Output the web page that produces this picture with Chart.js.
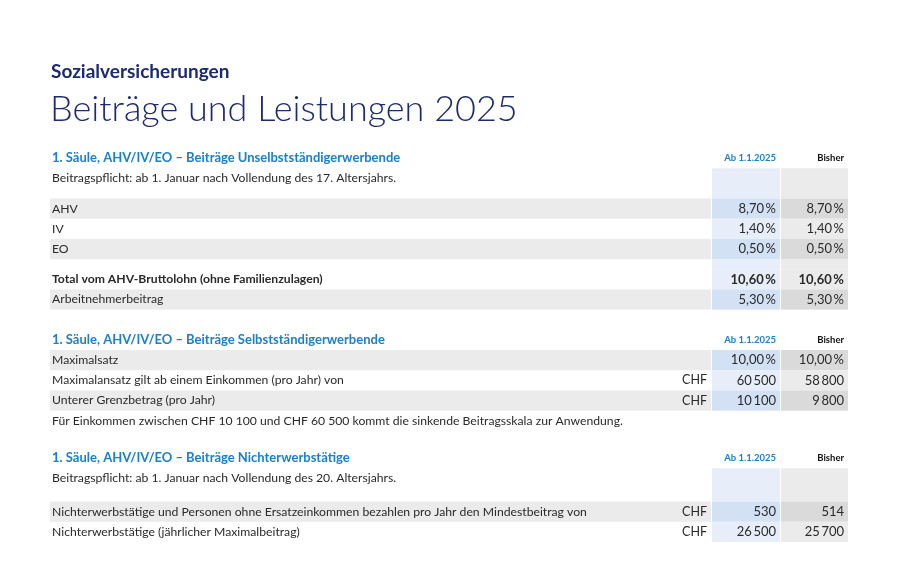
<!DOCTYPE html>
<html>
<head>
<meta charset="utf-8">
<title>Beiträge und Leistungen 2025</title>
<script src="https://cdn.jsdelivr.net/npm/chart.js@4.4.1/dist/chart.umd.min.js"></script>
<style>
  body { margin: 0; background: #fff; }
  #wrap { position: relative; width: 900px; height: 570px; }
</style>
</head>
<body>
<div id="wrap"><canvas id="myChart"></canvas></div>
<script>
// --- data -----------------------------------------------------------
var kicker = "Sozialversicherungen";
var mainTitle = "Beiträge und Leistungen 2025";
var sectionTitles = [
  "1. Säule, AHV/IV/EO – Beiträge Unselbstständigerwerbende",
  "1. Säule, AHV/IV/EO – Beiträge Selbstständigerwerbende",
  "1. Säule, AHV/IV/EO – Beiträge Nichterwerbstätige"
];
var colHeaders = ["Ab 1.1.2025", "Bisher"];
var introTexts = [
  "Beitragspflicht: ab 1. Januar nach Vollendung des 17. Altersjahrs.",
  "Beitragspflicht: ab 1. Januar nach Vollendung des 20. Altersjahrs."
];

var labels1 = ["AHV", "IV", "EO", "Total vom AHV-Bruttolohn (ohne Familienzulagen)", "Arbeitnehmerbeitrag"];
var rates2025 = [8.70, 1.40, 0.50, 10.60, 5.30];
var ratesBisher = [8.70, 1.40, 0.50, 10.60, 5.30];
var totalIndex = 3;

var labels2 = ["Maximalsatz", "Maximalansatz gilt ab einem Einkommen (pro Jahr) von", "Unterer Grenzbetrag (pro Jahr)"];
var units2 = ["%", "CHF", "CHF"];
var values2025_2 = [10.00, 60500, 10100];
var valuesBisher_2 = [10.00, 58800, 9800];
var note2 = "Für Einkommen zwischen CHF 10 100 und CHF 60 500 kommt die sinkende Beitragsskala zur Anwendung.";

var labels3 = ["Nichterwerbstätige und Personen ohne Ersatzeinkommen bezahlen pro Jahr den Mindestbeitrag von",
               "Nichterwerbstätige (jährlicher Maximalbeitrag)"];
var units3 = ["CHF", "CHF"];
var values2025_3 = [530, 26500];
var valuesBisher_3 = [514, 25700];

// --- formatting -----------------------------------------------------
function fmtPct(v) {
  return v.toFixed(2).replace(".", ",") + "\u2009%";
}
function fmtChf(v) {
  var s = String(v);
  if (s.length > 3) s = s.slice(0, s.length - 3) + "\u2009" + s.slice(s.length - 3);
  return s;
}
function fmt(v, unit) {
  return unit === "%" ? fmtPct(v) : fmtChf(v);
}

// --- table rows (heights in line units) -----------------------------
function buildRows() {
  var rows = [];
  rows.push({kind: "head", text: sectionTitles[0], h: 2});
  rows.push({kind: "intro", text: introTexts[0], h: 3});
  for (var i = 0; i < labels1.length; i++) {
    if (i === totalIndex) rows.push({kind: "gap", h: 1});
    rows.push({kind: "row", text: labels1[i], unit: "", a: fmtPct(rates2025[i]), b: fmtPct(ratesBisher[i]),
               shade: i % 2 === 0, bold: i === totalIndex, h: 2});
  }
  rows.push({kind: "space", h: 2});
  rows.push({kind: "head", text: sectionTitles[1], h: 2});
  for (var j = 0; j < labels2.length; j++) {
    rows.push({kind: "row", text: labels2[j], unit: units2[j] === "CHF" ? "CHF" : "",
               a: fmt(values2025_2[j], units2[j]), b: fmt(valuesBisher_2[j], units2[j]), shade: j % 2 === 0, h: 2});
  }
  rows.push({kind: "note", text: note2, h: 2});
  rows.push({kind: "space", h: 1.7});
  rows.push({kind: "head", text: sectionTitles[2], h: 2});
  rows.push({kind: "intro", text: introTexts[1], h: 3.3});
  for (var k = 0; k < labels3.length; k++) {
    rows.push({kind: "row", text: labels3[k], unit: units3[k], a: fmtChf(values2025_3[k]), b: fmtChf(valuesBisher_3[k]),
               shade: k % 2 === 0, h: 2});
  }
  var y = 0;
  rows.forEach(function(r) { r.y0 = y; y += r.h; r.y1 = y; });
  return rows;
}
var tableRows = buildRows();
var totalUnits = tableRows[tableRows.length - 1].y1;

// columns along the x scale (table width units)
var cols = {labelEnd: 661, newStart: 662, newEnd: 730, oldStart: 731, oldEnd: 798,
            labelX: 2, unitRight: 657, newRight: 726, oldRight: 794};

var FONT = "Lato, 'Open Sans', sans-serif";
var colors = {
  navy: "#1c2b6e", blue: "#1c80c8", text: "#2a2a2a",
  rowShade: "#ebebeb",
  newLight: "#e7eef9", newDark: "#d3e1f5",
  oldLight: "#ebebeb", oldDark: "#dadada"
};

var tablePlugin = {
  id: "tablePlugin",
  afterDraw: function(chart) {
    var ctx = chart.ctx, X = chart.scales.x, Y = chart.scales.y;
    function px(u) { return X.getPixelForValue(u); }
    function py(u) { return Y.getPixelForValue(u); }
    function rect(x0, x1, y0, y1, c) {
      ctx.fillStyle = c;
      ctx.fillRect(px(x0), py(y0), px(x1) - px(x0), py(y1) - py(y0));
    }
    ctx.save();

    // titles
    ctx.textBaseline = "alphabetic";
    ctx.textAlign = "left";
    ctx.fillStyle = colors.navy;
    ctx.font = "bold 19px " + FONT;
    ctx.fillText(kicker, px(0) + 1, 78);
    ctx.font = "300 36px " + FONT;
    ctx.fillText(mainTitle, px(0), 121);

    // cell backgrounds
    tableRows.forEach(function(r) {
      if (r.kind === "intro" || r.kind === "gap" || r.kind === "row") {
        var dark = r.kind === "row" && r.shade;
        if (dark) rect(0, cols.labelEnd, r.y0, r.y1, colors.rowShade);
        rect(cols.newStart, cols.newEnd, r.y0, r.y1, dark ? colors.newDark : colors.newLight);
        rect(cols.oldStart, cols.oldEnd, r.y0, r.y1, dark ? colors.oldDark : colors.oldLight);
      }
    });

    // texts
    ctx.textBaseline = "middle";
    tableRows.forEach(function(r) {
      var yc = py(r.y0 + 1);
      if (r.kind === "head") {
        ctx.textAlign = "left";
        ctx.fillStyle = colors.blue;
        ctx.font = "bold 13px " + FONT;
        ctx.fillText(r.text, px(cols.labelX), yc);
        ctx.textAlign = "right";
        ctx.font = "bold 9.5px " + FONT;
        ctx.fillText(colHeaders[0], px(cols.newRight), yc);
        ctx.fillStyle = "#111";
        ctx.fillText(colHeaders[1], px(cols.oldRight), yc);
      } else if (r.kind === "intro" || r.kind === "note" || r.kind === "row") {
        ctx.textAlign = "left";
        ctx.fillStyle = colors.text;
        ctx.font = (r.bold ? "bold " : "") + "12.2px " + FONT;
        ctx.fillText(r.text, px(cols.labelX), yc);
        if (r.kind === "row") {
          ctx.textAlign = "right";
          ctx.font = "12.5px " + FONT;
          if (r.unit) ctx.fillText(r.unit, px(cols.unitRight), yc);
          ctx.font = (r.bold ? "bold " : "") + "13px " + FONT;
          ctx.fillText(r.a, px(cols.newRight), yc);
          ctx.fillText(r.b, px(cols.oldRight), yc);
        }
      }
    });
    ctx.restore();
  }
};

new Chart("myChart", {
  type: "bar",
  data: { labels: [], datasets: [] },
  options: {
    responsive: true,
    maintainAspectRatio: false,
    animation: false,
    events: [],
    layout: { padding: { left: 50, right: 52, top: 148, bottom: 28 } },
    plugins: { legend: { display: false }, tooltip: { enabled: false } },
    scales: {
      x: { type: "linear", min: 0, max: cols.oldEnd, offset: false, display: false },
      y: { type: "linear", min: 0, max: totalUnits, offset: false, reverse: true, display: false }
    }
  },
  plugins: [tablePlugin]
});
</script>
</body>
</html>
